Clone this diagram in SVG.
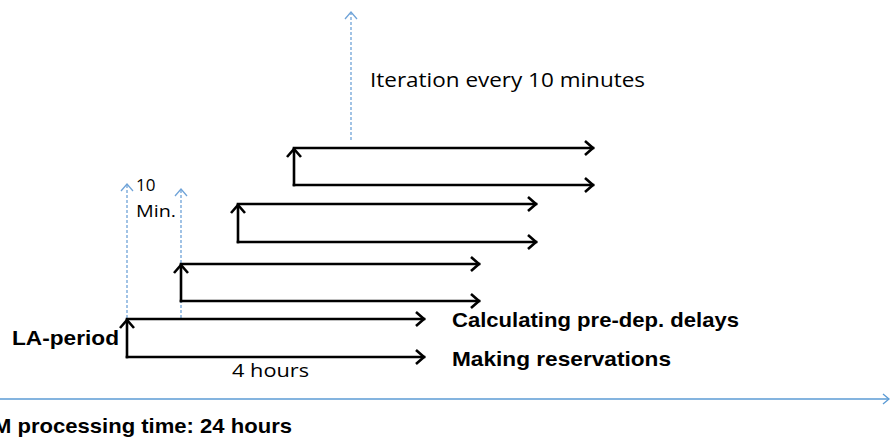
<svg xmlns="http://www.w3.org/2000/svg" width="892" height="438" viewBox="0 0 892 438">
<style>
.blk{stroke:#000;stroke-width:2.6;fill:none;stroke-linecap:square}
.dash{stroke:#6fa3d8;stroke-width:1.3;fill:none;stroke-dasharray:3 2}
.axis{stroke:#5b9bd5;stroke-width:1.3;fill:none}
.t{font-family:"Open Sans","Liberation Sans",sans-serif;fill:#000}
.b{font-family:"Liberation Sans",Arial,sans-serif;font-weight:bold;fill:#000}
</style>
<defs>
<marker id="ah" markerUnits="userSpaceOnUse" markerWidth="14" markerHeight="16" refX="10" refY="7" orient="auto" overflow="visible">
<path d="M2,0 L10,7 L2,14" fill="none" stroke="#000" stroke-width="2.6" stroke-linejoin="miter"/>
</marker>
<marker id="bh" markerUnits="userSpaceOnUse" markerWidth="10" markerHeight="12" refX="8" refY="6" orient="auto" overflow="visible">
<path d="M1,0 L8,6 L1,12" fill="none" stroke="#6fa3d8" stroke-width="1.3"/>
</marker>
<marker id="ax" markerUnits="userSpaceOnUse" markerWidth="10" markerHeight="12" refX="7" refY="5" orient="auto" overflow="visible">
<path d="M1,0 L7,5 L1,10" fill="none" stroke="#5b9bd5" stroke-width="1.3"/>
</marker>
</defs>
<g id="connectors">
<path class="dash" d="M127,318 V184" marker-end="url(#bh)"/>
<path class="dash" d="M181,318 V189" marker-end="url(#bh)"/>
<path class="dash" d="M351,140 V12" marker-end="url(#bh)"/>
<path class="axis" d="M0,399 H889" marker-end="url(#ax)"/>
</g>
<g id="pair1">
<path class="blk" d="M127,357 V320" marker-end="url(#ah)"/>
<path class="blk" d="M127,319 H424" marker-end="url(#ah)"/>
<path class="blk" d="M127,357 H424" marker-end="url(#ah)"/>
</g>
<g id="pair2">
<path class="blk" d="M181,301 V265" marker-end="url(#ah)"/>
<path class="blk" d="M181,264 H479" marker-end="url(#ah)"/>
<path class="blk" d="M181,301 H479" marker-end="url(#ah)"/>
</g>
<g id="pair3">
<path class="blk" d="M238,242 V205" marker-end="url(#ah)"/>
<path class="blk" d="M238,204 H536" marker-end="url(#ah)"/>
<path class="blk" d="M238,242 H536" marker-end="url(#ah)"/>
</g>
<g id="pair4">
<path class="blk" d="M294,185 V149" marker-end="url(#ah)"/>
<path class="blk" d="M294,148 H593" marker-end="url(#ah)"/>
<path class="blk" d="M294,185 H593" marker-end="url(#ah)"/>
</g>
<g id="labels">
<text class="t" x="370" y="87" font-size="20" textLength="275" lengthAdjust="spacingAndGlyphs">Iteration every 10 minutes</text>
<text class="t" x="136" y="191" font-size="17">10</text>
<text class="t" x="136" y="217" font-size="17" textLength="40" lengthAdjust="spacingAndGlyphs">Min.</text>
<text class="b" x="12" y="345" font-size="21" textLength="107" lengthAdjust="spacingAndGlyphs">LA-period</text>
<text class="t" x="232" y="377" font-size="19" textLength="77" lengthAdjust="spacingAndGlyphs">4 hours</text>
<text class="b" x="452" y="327" font-size="21" textLength="287" lengthAdjust="spacingAndGlyphs">Calculating pre-dep. delays</text>
<text class="b" x="452" y="366" font-size="21" textLength="219" lengthAdjust="spacingAndGlyphs">Making reservations</text>
<text class="b" x="-7" y="433" font-size="21" textLength="299" lengthAdjust="spacingAndGlyphs">M processing time: 24 hours</text>
</g>
</svg>
